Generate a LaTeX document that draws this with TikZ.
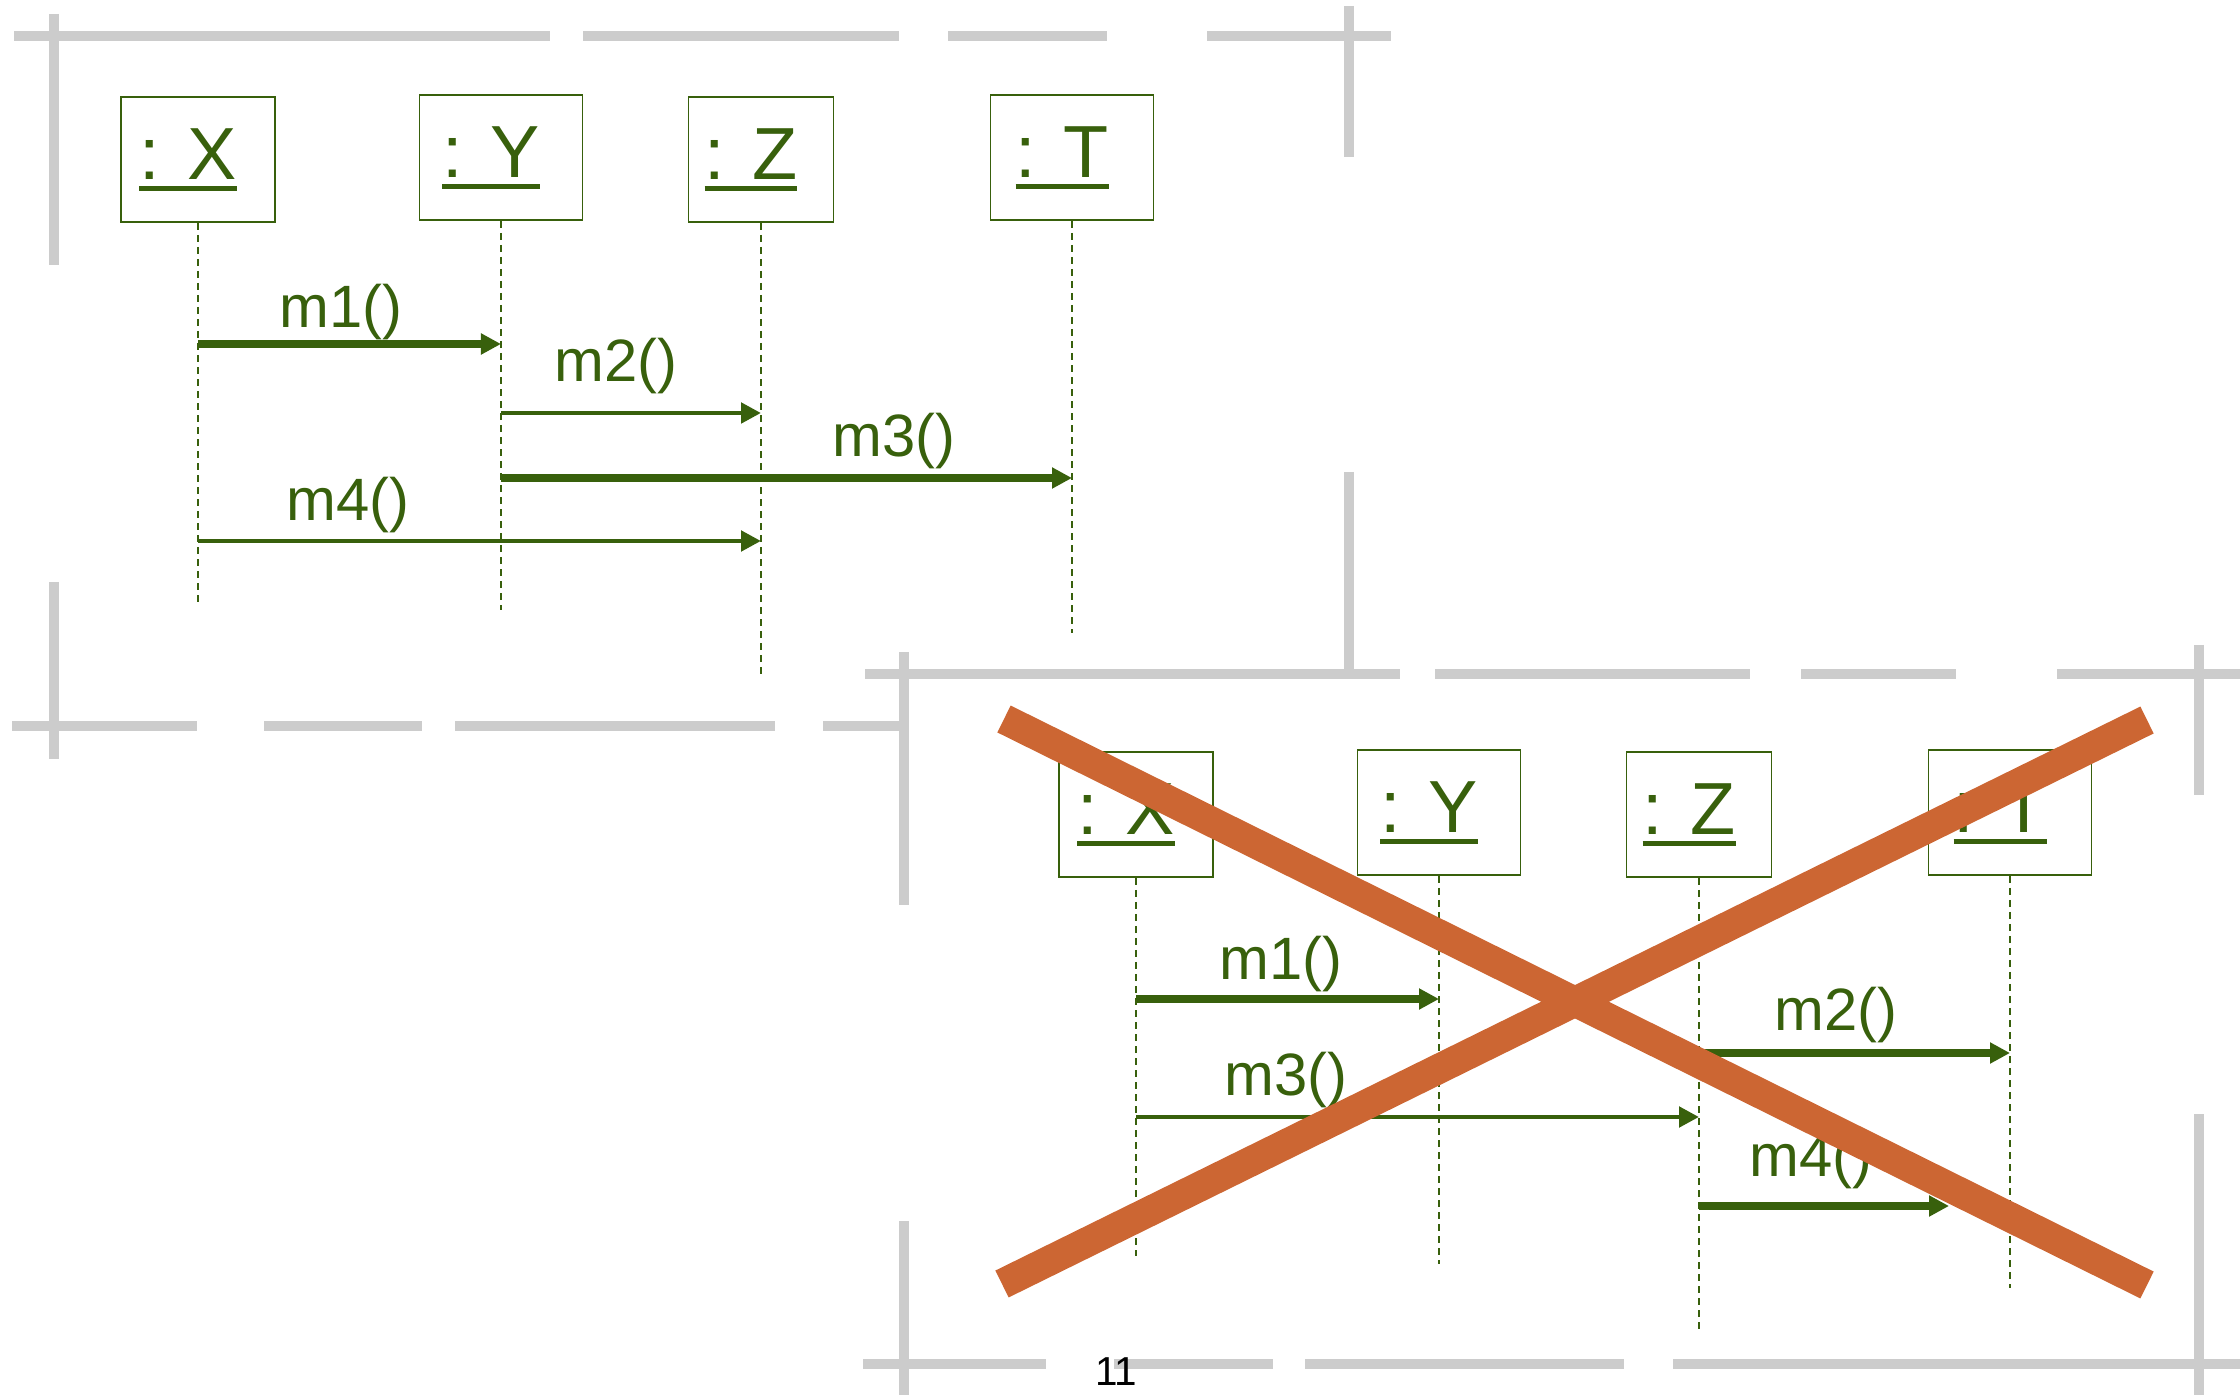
\documentclass[tikz,border=0pt]{standalone}
\usepackage{fontspec}
\setmainfont{Liberation Sans}
\usetikzlibrary{arrows.meta}
\definecolor{umlgreen}{RGB}{56,96,12}
\definecolor{cropgray}{RGB}{204,204,204}
\definecolor{crossred}{RGB}{204,102,51}
\newsavebox{\objbox}
\newcommand{\objname}[1]{\sbox{\objbox}{#1}\rlap{\usebox{\objbox}}\rule[-0.11cm]{\wd\objbox}{0.05cm}\rule{0.2cm}{0pt}}
\tikzset{
  obj/.style={draw=umlgreen, line width=0.5pt, text=umlgreen, inner sep=0pt,
    minimum width=#1, minimum height=1.25cm, text depth=0.1cm,
    font=\fontsize{21}{24}\selectfont},
  life/.style={umlgreen, line width=0.6pt, dash pattern=on 0.07cm off 0.05cm},
  msg/.style={umlgreen, line width=1.4pt, -{Triangle[length=0.2cm,width=0.2cm]}},
  msgb/.style={msg, line width=2.1pt},
  lbl/.style={text=umlgreen, inner sep=0pt, font=\fontsize{17}{20}\selectfont},
  crop/.style={cropgray, line width=0.1cm},
  cross/.style={crossred, line width=0.3cm}
}
\begin{document}
\begin{tikzpicture}[x=0.01cm, y=-0.01cm]
  \useasboundingbox (0,0) rectangle (2240,1395);
  \draw[crop] (14,36) -- (550,36) (583,36) -- (899,36) (948,36) -- (1107,36) (1207,36) -- (1391,36);
  \draw[crop] (54,14) -- (54,265) (54,582) -- (54,759);
  \draw[crop] (12,726) -- (197,726) (264,726) -- (422,726) (455,726) -- (775,726) (823,726) -- (903,726);
  \draw[crop] (1349,6) -- (1349,157) (1349,472) -- (1349,673);
  \draw[crop] (865,674) -- (1400,674) (1435,674) -- (1750,674) (1801,674) -- (1956,674) (2057,674) -- (2240,674);
  \draw[crop] (904,652) -- (904,905) (904,1221) -- (904,1395);
  \draw[crop] (863,1364) -- (1046,1364) (1114,1364) -- (1273,1364) (1305,1364) -- (1624,1364) (1673,1364) -- (2240,1364);
  \draw[crop] (2199,645) -- (2199,795) (2199,1114) -- (2199,1395);

  \draw
    (198,159.5) node[obj=1.54cm] (x1){\objname{: X}}
    (501,157.5) node[obj=1.63cm] (y1){\objname{: Y}}
    (761,159.5) node[obj=1.45cm] (z1){\objname{: Z}}
    (1072,157.5) node[obj=1.63cm] (t1){\objname{: T}}
    (341,312) node[lbl] (l1){m1()}
    (616,366) node[lbl] (l2){m2()}
    (894,441) node[lbl] (l3){m3()}
    (348,505) node[lbl] (l4){m4()};
  \coordinate (x1e) at (198,603);
  \coordinate (y1e) at (501,610);
  \coordinate (z1e) at (761,675);
  \coordinate (t1e) at (1072,633);
  \coordinate (h1) at (0,344);
  \coordinate (h2) at (0,413);
  \coordinate (h3) at (0,478);
  \coordinate (h4) at (0,541);
  \begin{scope}[life]
    \draw (x1) to (x1e);
    \draw (y1) to (y1e);
    \draw (z1) to (z1e);
    \draw (t1) to (t1e);
  \end{scope}
  \draw[msgb] (x1 |- h1) to (y1 |- h1);
  \draw[msg] (y1 |- h2) to (z1 |- h2);
  \draw[msgb] (y1 |- h3) to (t1 |- h3);
  \draw[msg] (x1 |- h4) to (z1 |- h4);

  \draw
    (1136,814.5) node[obj=1.54cm] (x2){\objname{: X}}
    (1439,812.5) node[obj=1.63cm] (y2){\objname{: Y}}
    (1699,814.5) node[obj=1.45cm] (z2){\objname{: Z}}
    (2010,812.5) node[obj=1.63cm] (t2){\objname{: T}}
    (1281,964) node[lbl] (n1){m1()}
    (1836,1015) node[lbl] (n2){m2()}
    (1286,1080) node[lbl] (n3){m3()}
    (1811,1161) node[lbl] (n4){m4()};
  \coordinate (x2e) at (1136,1256);
  \coordinate (y2e) at (1439,1264);
  \coordinate (z2e) at (1699,1329);
  \coordinate (t2e) at (2010,1288);
  \coordinate (k1) at (0,999);
  \coordinate (k2) at (0,1053);
  \coordinate (k3) at (0,1117);
  \coordinate (k4) at (0,1206);
  \coordinate (q4) at (1949,1206);
  \begin{scope}[life]
    \draw (x2) to (x2e);
    \draw (y2) to (y2e);
    \draw (z2) to (z2e);
    \draw (t2) to (t2e);
  \end{scope}
  \draw[msgb] (x2 |- k1) to (y2 |- k1);
  \draw[msgb] (z2 |- k2) to (t2 |- k2);
  \draw[msg] (x2 |- k3) to (z2 |- k3);
  \draw[msgb] (z2 |- k4) to (q4);

  \draw[cross] (1004,719) -- (2147,1285);
  \draw[cross] (1002,1284) -- (2147,720);
  \draw (1116,1372) node[inner sep=0pt, font=\fontsize{11.5}{13}\selectfont] (pg){11};
\end{tikzpicture}
\end{document}
